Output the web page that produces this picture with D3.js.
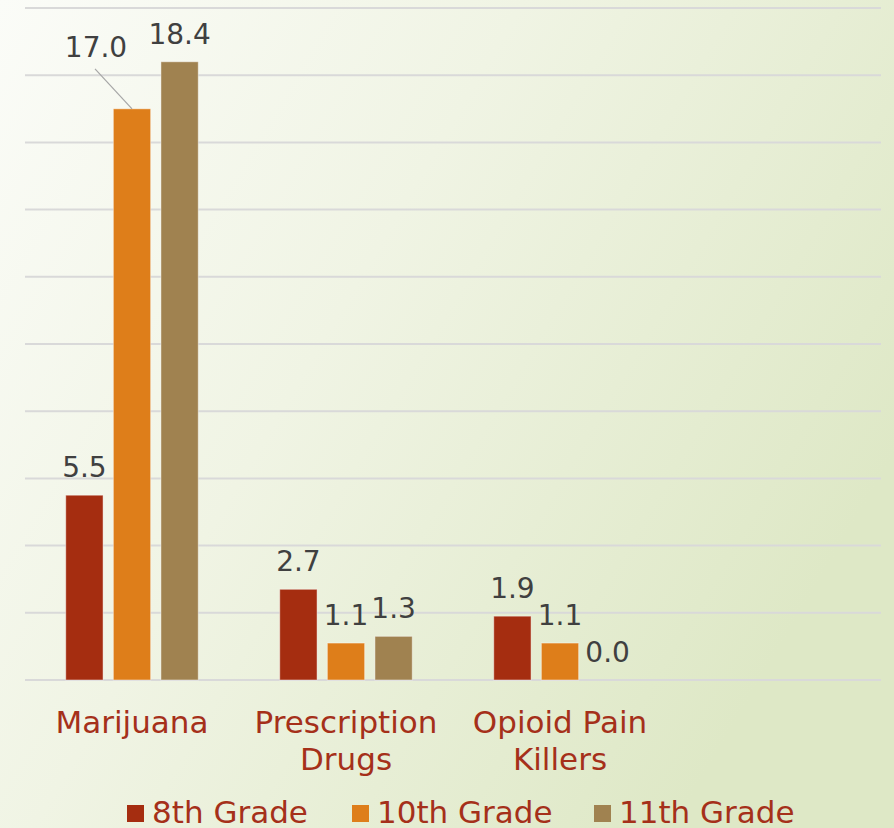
<!DOCTYPE html>
<html>
<head>
<meta charset="utf-8">
<script src="https://cdn.jsdelivr.net/npm/d3@7"></script>
<style>
  html, body { margin: 0; padding: 0; background: #fff; }
  svg { display: block; }
</style>
</head>
<body>
<script>
const categories = ["Marijuana", "Prescription Drugs", "Opioid Pain Killers"];
const categoryLines = [["Marijuana"], ["Prescription", "Drugs"], ["Opioid Pain", "Killers"]];
const series = ["8th Grade", "10th Grade", "11th Grade"];
const grade8 = [5.5, 2.7, 1.9];
const grade10 = [17.0, 1.1, 1.1];
const grade11 = [18.4, 1.3, 0.0];
const yTicks = [0, 2, 4, 6, 8, 10, 12, 14, 16, 18, 20];
const colors = ["#A52D10", "#DE7E1A", "#A08250"];

const width = 894, height = 828;
const margin = {top: 8, right: 13, bottom: 148, left: 25};
const font = "'DejaVu Sans', sans-serif";

const valuesBySeries = [grade8, grade10, grade11];
const data = categories.map((c, i) => ({
  category: c,
  values: series.map((s, j) => ({series: s, category: c, value: valuesBySeries[j][i]}))
}));

// the original axis has a fourth, empty slot on the right
const x = d3.scaleBand()
  .domain([...categories, "_empty"])
  .range([margin.left, width - margin.right]);

const x1 = d3.scaleBand()
  .domain(series)
  .range([0, x.bandwidth()])
  .paddingInner(0.216)
  .paddingOuter(0.856);

const y = d3.scaleLinear()
  .domain([0, 20])
  .range([height - margin.bottom, margin.top]);

const color = d3.scaleOrdinal().domain(series).range(colors);

const svg = d3.select("body").append("svg")
  .attr("width", width)
  .attr("height", height)
  .attr("viewBox", [0, 0, width, height]);

const grad = svg.append("defs").append("linearGradient")
  .attr("id", "bg")
  .attr("x1", "0%").attr("y1", "0%")
  .attr("x2", "100%").attr("y2", "55%");
grad.append("stop").attr("offset", "0%").attr("stop-color", "#FBFCF8");
grad.append("stop").attr("offset", "45%").attr("stop-color", "#F0F4E4");
grad.append("stop").attr("offset", "100%").attr("stop-color", "#DEE8C6");

svg.append("rect")
  .attr("width", width)
  .attr("height", height)
  .attr("fill", "url(#bg)");

// gridlines
svg.append("g")
  .attr("class", "grid")
  .selectAll("line")
  .data(yTicks)
  .join("line")
  .attr("x1", margin.left)
  .attr("x2", width - margin.right)
  .attr("y1", d => y(d))
  .attr("y2", d => y(d))
  .attr("stroke", "#D9D9D9")
  .attr("stroke-width", 2);

// bars
const groups = svg.append("g")
  .attr("class", "bars")
  .selectAll("g")
  .data(data)
  .join("g")
  .attr("transform", d => `translate(${x(d.category)},0)`);

groups.selectAll("rect")
  .data(d => d.values)
  .join("rect")
  .attr("x", d => x1(d.series))
  .attr("y", d => y(d.value))
  .attr("width", x1.bandwidth())
  .attr("height", d => y(0) - y(d.value))
  .attr("fill", d => color(d.series))
  .attr("stroke", "rgba(255,255,255,0.45)")
  .attr("stroke-width", 1);

// data labels; the 17.0 label was pushed aside in the original and gets a leader line
const moved = d => d.category === "Marijuana" && d.series === "10th Grade";
const shift = {dx: -36, dy: -34};

groups.selectAll("line.leader")
  .data(d => d.values.filter(moved))
  .join("line")
  .attr("class", "leader")
  .attr("x1", d => x1(d.series) + x1.bandwidth() / 2 + shift.dx - 1)
  .attr("y1", d => y(d.value) - 18 + shift.dy + 12)
  .attr("x2", d => x1(d.series) + x1.bandwidth() / 2)
  .attr("y2", d => y(d.value))
  .attr("stroke", "#A6A6A6")
  .attr("stroke-width", 1.2);

groups.selectAll("text.value")
  .data(d => d.values)
  .join("text")
  .attr("class", "value")
  .attr("x", d => x1(d.series) + x1.bandwidth() / 2 + (moved(d) ? shift.dx : 0))
  .attr("y", d => y(d.value) - 18 + (moved(d) ? shift.dy : 0))
  .attr("text-anchor", "middle")
  .attr("font-family", font)
  .attr("font-size", 28)
  .attr("fill", "#404040")
  .text(d => d3.format(".1f")(d.value));

// category labels
const catText = svg.append("g")
  .attr("class", "x-axis")
  .selectAll("text")
  .data(categories)
  .join("text")
  .attr("x", d => x(d) + x.bandwidth() / 2)
  .attr("y", 733)
  .attr("text-anchor", "middle")
  .attr("font-family", font)
  .attr("font-size", 31)
  .attr("fill", "#A5301A");

catText.selectAll("tspan")
  .data((d, i) => categoryLines[i])
  .join("tspan")
  .attr("x", function() { return this.parentNode.getAttribute("x"); })
  .attr("dy", (d, i) => i === 0 ? 0 : 37)
  .text(d => d);

// legend
const legendX = [127, 352, 594];
const legend = svg.append("g")
  .attr("class", "legend")
  .selectAll("g")
  .data(series)
  .join("g")
  .attr("transform", (d, i) => `translate(${legendX[i]},805)`);

legend.append("rect")
  .attr("width", 17)
  .attr("height", 17)
  .attr("fill", d => color(d));

legend.append("text")
  .attr("x", 25)
  .attr("y", 18)
  .attr("font-family", font)
  .attr("font-size", 31)
  .attr("fill", "#A5301A")
  .text(d => d);
</script>
</body>
</html>
